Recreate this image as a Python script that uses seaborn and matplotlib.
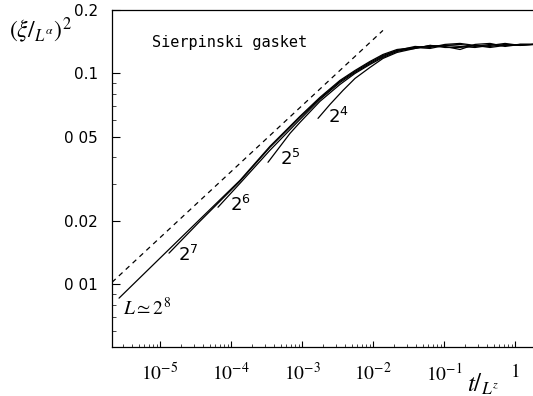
import matplotlib
matplotlib.use("Agg")
import matplotlib.pyplot as plt
import seaborn as sns
import pandas as pd
from matplotlib.ticker import FixedLocator, FixedFormatter, LogLocator, NullFormatter

# ---------------- data ----------------
x_plateau = [0.039, 0.0635, 0.103, 0.168, 0.273, 0.444, 0.723, 1.18, 1.8]

L8_x = [2.65e-6, 1.0e-5, 3.66e-5, 1.34e-4, 3.54e-4, 9.37e-4, 1.79e-3, 3.43e-3,
        5.58e-3, 9.07e-3, 0.0138, 0.0218] + x_plateau
L8_y = [0.00858, 0.01328, 0.02033, 0.0311, 0.0451, 0.0626, 0.0770, 0.0927,
        0.1033, 0.1140, 0.1230, 0.1299,
        0.1328, 0.1343, 0.1358, 0.1373, 0.1343, 0.1373, 0.1358, 0.1373, 0.1373]

L7_x = [1.34e-5, 3.66e-5, 1.34e-4, 3.54e-4, 9.37e-4, 1.79e-3, 3.43e-3,
        5.58e-3, 9.07e-3, 0.0138, 0.0218] + x_plateau
L7_y = [0.01403, 0.01989, 0.0308, 0.0446, 0.0619, 0.0761, 0.0917,
        0.1022, 0.1128, 0.1217, 0.1285,
        0.1343, 0.1328, 0.1373, 0.1388, 0.1358, 0.1343, 0.1373, 0.1358, 0.1373]

L6_x = [6.56e-5, 1.34e-4, 3.54e-4, 9.37e-4, 1.79e-3, 3.43e-3,
        5.58e-3, 9.07e-3, 0.0138, 0.0218] + x_plateau
L6_y = [0.02317, 0.0301, 0.0432, 0.0605, 0.0753, 0.0906,
        0.1011, 0.1115, 0.1204, 0.1285,
        0.1314, 0.1358, 0.1343, 0.1299, 0.1373, 0.1388, 0.1343, 0.1373, 0.1373]

L5_x = [3.32e-4, 6.78e-4, 9.37e-4, 1.79e-3, 3.43e-3,
        5.58e-3, 9.07e-3, 0.0138, 0.0218] + x_plateau
L5_y = [0.03787, 0.05196, 0.0586, 0.0737, 0.0887,
        0.1000, 0.1103, 0.1191, 0.1271,
        0.1328, 0.1314, 0.1358, 0.1343, 0.1328, 0.1358, 0.1388, 0.1358, 0.1373]

L4_x = [1.68e-3, 2.48e-3, 3.78e-3, 5.58e-3, 9.07e-3, 0.0138, 0.0218] + x_plateau
L4_y = [0.0612, 0.0713, 0.0831, 0.0947, 0.1068, 0.1178, 0.1258,
        0.1314, 0.1358, 0.1328, 0.1328, 0.1358, 0.1328, 0.1358, 0.1373, 0.1373]

series_names = ["2^8", "2^7", "2^6", "2^5", "2^4"]

dash_x = [2.11e-6, 0.0138]
dash_y = [0.0102, 0.160]

x_ticks = [1e-5, 1e-4, 1e-3, 1e-2, 1e-1, 1]
x_ticklabels = [r"$10^{-5}$", r"$10^{-4}$", r"$10^{-3}$", r"$10^{-2}$", r"$10^{-1}$", r"$1$"]
y_ticks = [0.01, 0.02, 0.05, 0.1, 0.2]
y_ticklabels = ["0 01", "0.02", "0 05", "0.1", "0.2"]

# curve labels: text, x, y
curve_labels = [
    (r"$2^4$", 3.21e-3, 0.0619),
    (r"$2^5$", 6.78e-4, 0.0391),
    (r"$2^6$", 1.34e-4, 0.02368),
    (r"$2^7$", 2.48e-5, 0.01372),
]

# ---------------- build ----------------
frames = []
for name, xs, ys in zip(series_names, [L8_x, L7_x, L6_x, L5_x, L4_x],
                        [L8_y, L7_y, L6_y, L5_y, L4_y]):
    frames.append(pd.DataFrame({"x": xs, "y": ys, "L": name}))
df = pd.concat(frames, ignore_index=True)
df_dash = pd.DataFrame({"x": dash_x, "y": dash_y})

sns.set_theme(style="white")
plt.rcParams["font.family"] = ["DejaVu Sans"]
plt.rcParams["mathtext.fontset"] = "stix"

fig = plt.figure(figsize=(5.33, 3.96), dpi=100)
ax = fig.add_axes([112 / 533, 49 / 396, 421 / 533, 337 / 396])

sns.lineplot(data=df, x="x", y="y", hue="L", units="L", estimator=None, sort=False,
             palette=["black"] * 5, legend=False, linewidth=0.9, ax=ax)
sns.lineplot(data=df_dash, x="x", y="y", color="black", linewidth=0.9,
             linestyle=(0, (4, 3.5)), ax=ax)

ax.set_xscale("log")
ax.set_yscale("log")
ax.set_xlim(2.11e-6, 1.79)
ax.set_ylim(0.00503, 0.2)

ax.xaxis.set_major_locator(FixedLocator(x_ticks))
ax.xaxis.set_major_formatter(FixedFormatter(x_ticklabels))
ax.xaxis.set_minor_locator(LogLocator(base=10, subs=range(2, 10), numticks=20))
ax.xaxis.set_minor_formatter(NullFormatter())
ax.yaxis.set_major_locator(FixedLocator(y_ticks))
ax.yaxis.set_major_formatter(FixedFormatter(y_ticklabels))
ax.yaxis.set_minor_locator(LogLocator(base=10, subs=range(2, 10), numticks=20))
ax.yaxis.set_minor_formatter(NullFormatter())

ax.tick_params(axis="x", which="major", direction="in", length=4, width=0.8,
               pad=11, labelsize=14, colors="black")
ax.tick_params(axis="x", which="minor", direction="in", length=2, width=0.6)
ax.tick_params(axis="y", which="major", direction="in", length=6, width=0.8,
               pad=10, labelsize=11, colors="black")
ax.tick_params(axis="y", which="minor", direction="in", length=3, width=0.6)
ax.tick_params(which="both", top=False, right=False, left=True, bottom=True)

for side in ["left", "bottom", "top"]:
    ax.spines[side].set_visible(True)
    ax.spines[side].set_color("black")
    ax.spines[side].set_linewidth(0.9)
ax.spines["right"].set_visible(False)

ax.set_xlabel("")
ax.set_ylabel("")

for txt, tx, ty in curve_labels:
    ax.text(tx, ty, txt, ha="center", va="center", fontsize=13,
            math_fontfamily="dejavusans", color="black")
ax.text(6.5e-6, 0.0077, r"$L \simeq 2^8$", ha="center", va="center", fontsize=14,
        color="black")

ax.text(0.28, 0.905, "Sierpinski gasket", transform=ax.transAxes, ha="center",
        va="center", fontsize=11, family="DejaVu Sans Mono", color="black")

ax.text(-0.17, 0.94, r"$(\xi/_{L^{\alpha}})^2$", transform=ax.transAxes,
        ha="center", va="center", fontsize=17, color="black")
ax.text(0.882, -0.11, r"$t/_{L^z}$", transform=ax.transAxes,
        ha="center", va="center", fontsize=18, color="black")

fig.savefig("out.png", dpi=100, facecolor="white")
